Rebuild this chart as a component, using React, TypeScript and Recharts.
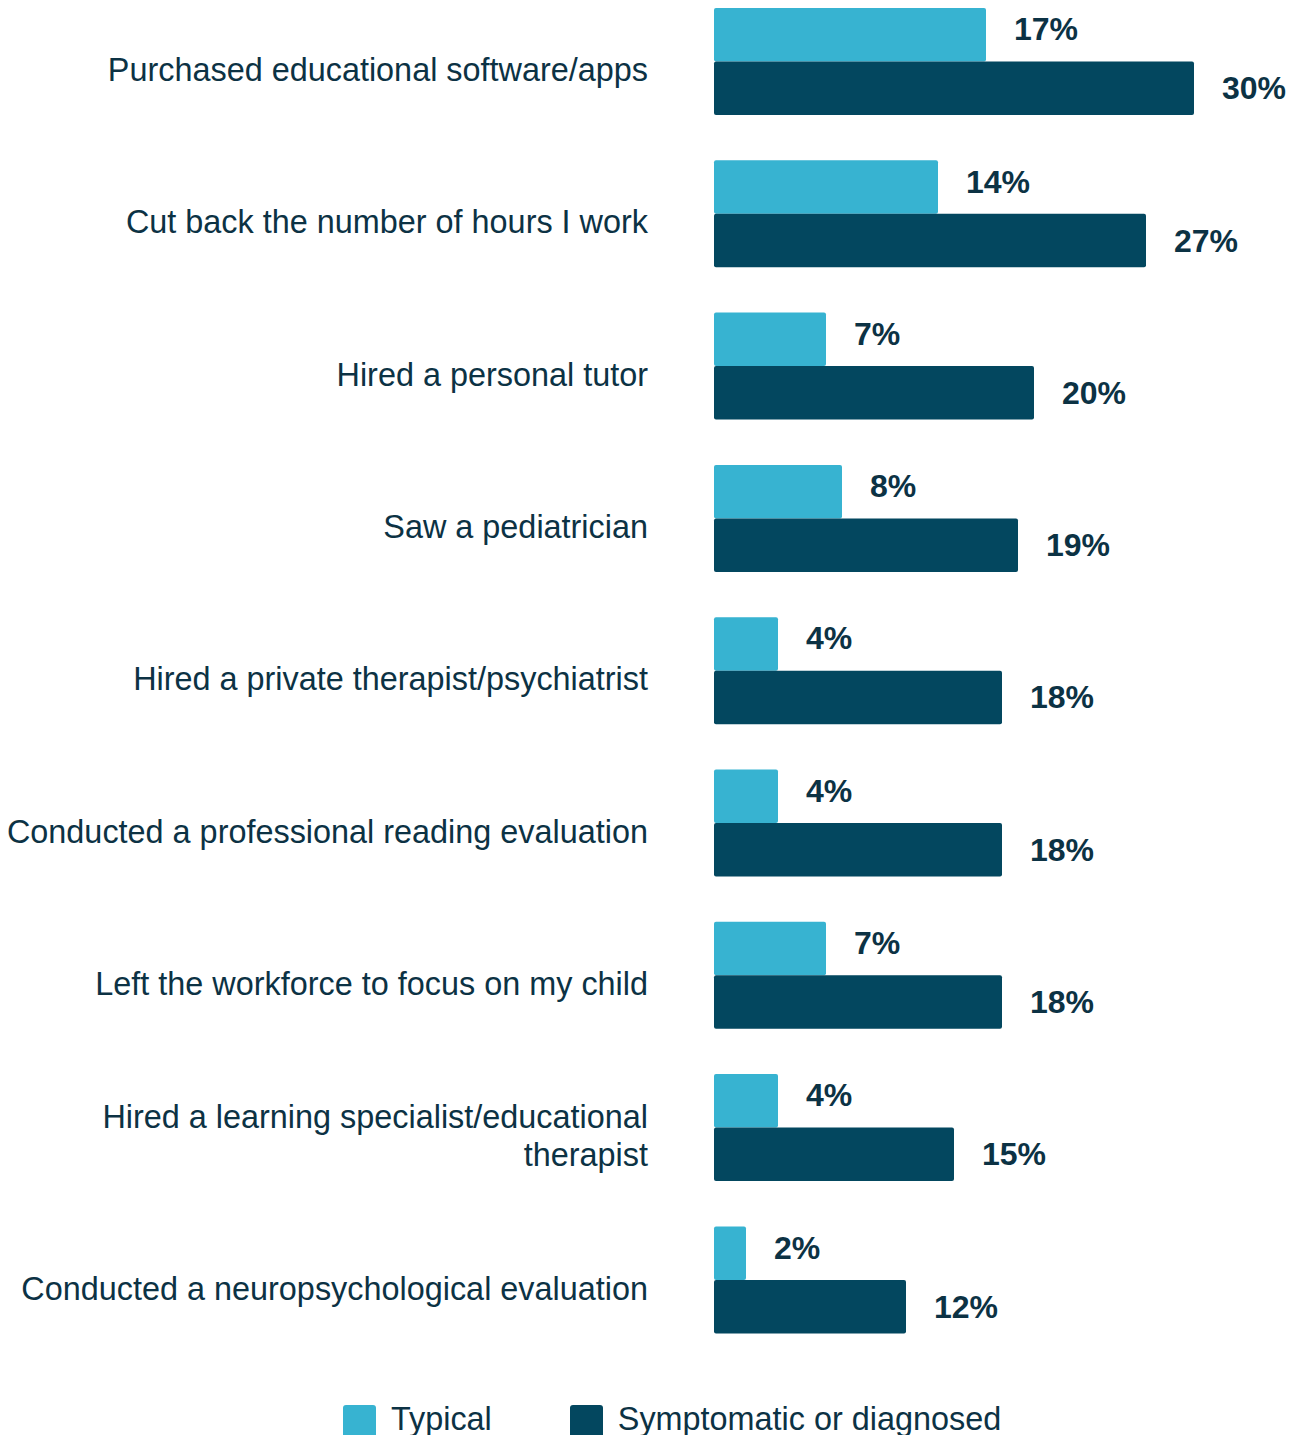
import React from 'react';
import { BarChart, Bar, XAxis, YAxis, Legend, LabelList } from 'recharts';

const categories = [
  'Purchased educational software/apps',
  'Cut back the number of hours I work',
  'Hired a personal tutor',
  'Saw a pediatrician',
  'Hired a private therapist/psychiatrist',
  'Conducted a professional reading evaluation',
  'Left the workforce to focus on my child',
  'Hired a learning specialist/educational\ntherapist',
  'Conducted a neuropsychological evaluation',
];
const typicalValues = [17, 14, 7, 8, 4, 4, 7, 4, 2];
const symptomaticValues = [30, 27, 20, 19, 18, 18, 18, 15, 12];
const seriesNames = ['Typical', 'Symptomatic or diagnosed'];
const seriesColors = ['#37b3d1', '#03475f'];

const TEXT = '#0c3244';
const FONT = '"Liberation Sans", Arial, Helvetica, sans-serif';

const data = categories.map((c, i) => ({
  category: c,
  typical: typicalValues[i],
  symptomatic: symptomaticValues[i],
}));

const CategoryTick = (props: any) => {
  const { x, y, payload } = props;
  const lines = String(payload.value).split('\n');
  const lh = 38;
  const start = y + 20 - ((lines.length - 1) * lh) / 2;
  return (
    <text textAnchor="end" fill={TEXT} fontSize={32.4} fontFamily={FONT}>
      {lines.map((l, i) => (
        <tspan key={i} x={x} y={start + i * lh}>
          {l}
        </tspan>
      ))}
    </text>
  );
};

const makeValueLabel = (dyBase: number) => (props: any) => {
  const { x, y, width, height, value } = props;
  return (
    <text
      x={Number(x) + Number(width) + 28}
      y={Number(y) + Number(height) / 2 + dyBase}
      fill={TEXT}
      fontSize={32}
      fontWeight={700}
      fontFamily={FONT}
      textAnchor="start"
    >
      {`${value}%`}
    </text>
  );
};

const LegendContent = () => {
  const items = seriesNames.map((n, i) => ({ name: n, color: seriesColors[i] }));
  return (
    <div style={{ display: 'flex', alignItems: 'flex-start', fontFamily: FONT, fontSize: 32.4, color: TEXT }}>
      {items.map((it, i) => (
        <div key={it.name} style={{ display: 'flex', alignItems: 'flex-start', marginRight: i === 0 ? 78 : 0 }}>
          <div style={{ width: 33, height: 33, background: it.color, borderRadius: 3 }} />
          <span style={{ marginLeft: 15, lineHeight: '33px', marginTop: -2, whiteSpace: 'nowrap' }}>{it.name}</span>
        </div>
      ))}
    </div>
  );
};

export default function App() {
  return (
    <div style={{ position: 'absolute', left: 0, top: 0, width: 1297, height: 1435, overflow: 'hidden', background: '#fff' }}>
      <div style={{ position: 'absolute', left: 0, top: -40 }}>
        <BarChart
          width={1297}
          height={1480}
          data={data}
          layout="vertical"
          margin={{ top: 25, right: 23, bottom: 84.3, left: 0 }}
          barGap={0}
        >
          <XAxis type="number" domain={[0, 35]} hide />
          <YAxis
            type="category"
            dataKey="category"
            width={714}
            axisLine={false}
            tickLine={false}
            tickSize={0}
            tickMargin={66}
            interval={0}
            tick={<CategoryTick />}
          />
          <Legend
            layout="horizontal"
            verticalAlign="middle"
            align="center"
            content={<LegendContent />}
            wrapperStyle={{ top: 1445, left: 343, width: 800 }}
          />
          <Bar dataKey="typical" name={seriesNames[0]} fill={seriesColors[0]} barSize={53.5} radius={2} isAnimationActive={false}>
            <LabelList dataKey="typical" content={makeValueLabel(5.5)} />
          </Bar>
          <Bar dataKey="symptomatic" name={seriesNames[1]} fill={seriesColors[1]} barSize={53.5} radius={2} isAnimationActive={false}>
            <LabelList dataKey="symptomatic" content={makeValueLabel(11)} />
          </Bar>
        </BarChart>
      </div>
    </div>
  );
}
